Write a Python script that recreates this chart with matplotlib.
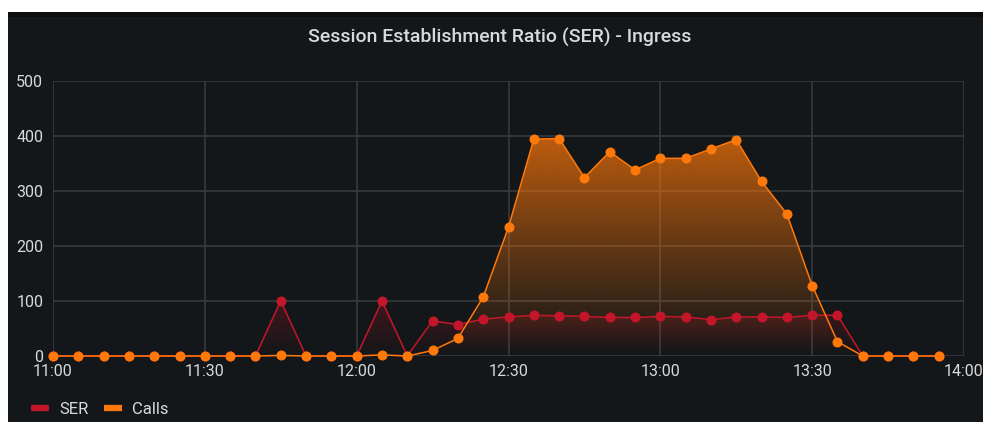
import numpy as np
import pandas as pd
import matplotlib
matplotlib.use("Agg")
import matplotlib.pyplot as plt
import matplotlib.dates as mdates
from matplotlib.patches import Rectangle, Polygon
from matplotlib.lines import Line2D
from matplotlib.colors import to_rgb

plt.rcParams['font.family'] = ['Roboto', 'DejaVu Sans']

# 5-minute samples, 11:00 .. 13:55
times = pd.date_range("2021-01-01 11:00", "2021-01-01 13:55", freq="5min")

ser = [0, 0, 0, 0, 0, 0, 0, 0, 0, 100,
       0, 0, 0, 100, 0, 64, 57, 67, 71, 74,
       73, 72, 70, 70, 72, 71, 66, 71, 71, 70,
       74, 74, 0, 0, 0, 0]
calls = [0, 0, 0, 0, 0, 0, 0, 0, 0, 1,
         0, 0, 0, 2, 0, 10, 32, 107, 234, 394,
         395, 324, 371, 338, 359, 359, 376, 393, 317, 258,
         128, 26, 0, 0, 0, 0]

series_names = ["SER", "Calls"]
series_colors = ["#C4162A", "#FF780A"]

bg = "#141719"
grid_col = "#383b3e"
text_col = "#d8d9da"

fig = plt.figure(figsize=(9.83, 4.22), dpi=100)
fig.patch.set_facecolor("white")
# dark panel behind everything
fig.patches.append(Rectangle((8 / 983, 0), 1 - 8 / 983, 410 / 422, transform=fig.transFigure,
                             facecolor=bg, edgecolor="none", zorder=-10))
fig.patches.append(Rectangle((8 / 983, 405 / 422), 1 - 8 / 983, 5 / 422, transform=fig.transFigure,
                             facecolor="#0d0e10", edgecolor="none", zorder=-9))

ax = fig.add_axes([53 / 983, (422 - 356) / 422, (964 - 53) / 983, (356 - 80.7) / 422])
ax.set_facecolor("none")

xnum = mdates.date2num(times)
x0 = mdates.date2num(pd.Timestamp("2021-01-01 11:00"))
x1 = mdates.date2num(pd.Timestamp("2021-01-01 14:00"))


def gradient_fill(ax, x, y, color, top_alpha, zorder):
    # vertical gradient under the line, fading to nothing at zero
    ymax = max(y)
    rgb = to_rgb(color)
    n = 256
    img = np.zeros((n, 1, 4))
    img[:, 0, :3] = rgb
    vals = np.linspace(0, ymax, n)
    img[:, 0, 3] = top_alpha * (vals / ymax) ** 1.1
    im = ax.imshow(img, aspect="auto", origin="lower",
                   extent=[x[0], x[-1], 0, ymax], zorder=zorder, interpolation="bilinear")
    verts = [(x[0], 0)] + list(zip(x, y)) + [(x[-1], 0)]
    poly = Polygon(verts, closed=True, facecolor="none", edgecolor="none")
    ax.add_patch(poly)
    im.set_clip_path(poly)


gradient_fill(ax, xnum, ser, series_colors[0], 0.28, 1)
gradient_fill(ax, xnum, calls, series_colors[1], 0.72, 2)

ax.plot(xnum, ser, color=series_colors[0], lw=1.1, marker="o", ms=6.2, zorder=3, clip_on=False)
ax.plot(xnum, calls, color=series_colors[1], lw=1.1, marker="o", ms=6.2, zorder=4, clip_on=False)
ax.set_xlim(x0, x1)
ax.set_ylim(0, 500)

ax.xaxis.set_major_locator(mdates.MinuteLocator(byminute=[0, 30]))
ax.xaxis.set_major_formatter(mdates.DateFormatter("%H:%M"))
ax.set_yticks([0, 100, 200, 300, 400, 500])
ax.grid(True, color=grid_col, lw=1.2, zorder=0)
ax.set_axisbelow(True)
for s in ax.spines.values():
    s.set_visible(False)
ax.tick_params(length=0, colors=text_col, labelsize=11.5, pad=6)
ax.tick_params(axis="y", pad=7)

fig.text(500 / 983, (422 - 37) / 422, "Session Establishment Ratio (SER) - Ingress",
         ha="center", va="center", color=text_col, fontsize=14, fontweight="medium")

handles = [Line2D([], [], color=c, lw=4.5, solid_capstyle="butt") for c in series_colors]
fig.legend(handles, series_names, loc="center left", bbox_to_anchor=(16 / 983, 13 / 422),
           ncol=2, frameon=False, handlelength=1.1, handletextpad=0.6, columnspacing=0.9,
           labelcolor=text_col, fontsize=12)

fig.savefig("out.png", dpi=100, facecolor=fig.get_facecolor())
